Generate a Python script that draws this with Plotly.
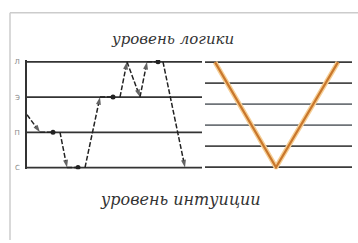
import plotly.graph_objects as go

# Left chart: levels and path
left_levels = [0, 1, 2, 3]
left_labels = ["С", "П", "Э", "Л"]
path_x = [0, 13, 33, 40, 58, 73, 93, 100, 113, 120, 136, 158]
path_y = [1.5, 1, 1, 0, 0, 2, 2, 3, 2, 3, 3, 0]
arrow_flags = [0, 1, 0, 1, 0, 1, 0, 1, 1, 1, 0, 1]
dot_x = [26, 51, 86, 131]
dot_y = [1, 0, 2, 3]

# Right chart: levels and V curve
right_levels = [0, 1, 2, 3, 4, 5]
right_colors = ["#3a3a3a", "#4a4a4a", "#6e7378", "#6e7378", "#4a4a4a", "#3a3a3a"]
v_x = [10, 71, 133]
v_y = [5, 0, 5]

title_top = "уровень логики"
title_bottom = "уровень интуиции"

W, H = 358, 243
LX0, LX1 = 0, 175
RX0, RX1 = 0, 147
dom_y = [0.297, 0.756]

fig = go.Figure()

for lv in left_levels:
    fig.add_trace(go.Scatter(x=[LX0, LX1], y=[lv, lv], mode="lines",
                             line=dict(color="#333333", width=1.8),
                             xaxis="x", yaxis="y", hoverinfo="skip", showlegend=False))

fig.add_trace(go.Scatter(
    x=path_x, y=path_y, mode="lines+markers",
    line=dict(color="#222222", width=1.5, dash="5px,2px"),
    marker=dict(symbol="arrow", angleref="previous",
                size=[8 if f else 0 for f in arrow_flags], color="#222222",
                line=dict(width=0)),
    xaxis="x", yaxis="y", hoverinfo="skip", showlegend=False))

fig.add_trace(go.Scatter(x=dot_x, y=dot_y, mode="markers",
                         marker=dict(size=5, color="#222222"),
                         xaxis="x", yaxis="y", hoverinfo="skip", showlegend=False))

for lv, c in zip(right_levels, right_colors):
    fig.add_trace(go.Scatter(x=[RX0, RX1], y=[lv, lv], mode="lines",
                             line=dict(color=c, width=1.8),
                             xaxis="x2", yaxis="y2", hoverinfo="skip", showlegend=False))

fig.add_trace(go.Scatter(x=v_x, y=v_y, mode="lines",
                         line=dict(color="#f6cf96", width=5),
                         xaxis="x2", yaxis="y2", hoverinfo="skip", showlegend=False))
fig.add_trace(go.Scatter(x=v_x, y=v_y, mode="lines",
                         line=dict(color="#c9772c", width=2.2),
                         xaxis="x2", yaxis="y2", hoverinfo="skip", showlegend=False))

fig.update_layout(
    width=W, height=H,
    margin=dict(l=0, r=0, t=0, b=0),
    paper_bgcolor="white", plot_bgcolor="rgba(0,0,0,0)",
    xaxis=dict(domain=[27 / W, 202 / W], range=[LX0, LX1], visible=False),
    yaxis=dict(domain=dom_y, range=[-0.05, 3.05], anchor="x",
               tickvals=left_levels, ticktext=left_labels,
               tickfont=dict(size=7, color="#888888", family="DejaVu Sans"),
               showgrid=False, zeroline=False, showline=True,
               linecolor="#333333", linewidth=1.8, ticks="", ticklabelstandoff=4),
    xaxis2=dict(domain=[205 / W, 352 / W], range=[RX0, RX1], visible=False, anchor="y2"),
    yaxis2=dict(domain=dom_y, range=[-0.1, 5.1], anchor="x2", visible=False),
    shapes=[
        dict(type="line", xref="paper", yref="paper", x0=10 / W, x1=1, y0=1 - 11 / H, y1=1 - 11 / H,
             line=dict(color="#cccccc", width=1.5)),
        dict(type="line", xref="paper", yref="paper", x0=10 / W, x1=10 / W, y0=0, y1=1 - 11 / H,
             line=dict(color="#cccccc", width=1.5)),
    ],
    annotations=[
        dict(text="<i>" + title_top + "</i>", xref="paper", yref="paper", x=172 / W, y=1 - 38 / H,
             showarrow=False, xanchor="center", yanchor="middle",
             font=dict(family="DejaVu Serif", size=15, color="#333333")),
        dict(text="<i>" + title_bottom + "</i>", xref="paper", yref="paper", x=180 / W, y=1 - 202 / H,
             showarrow=False, xanchor="center", yanchor="middle",
             font=dict(family="DejaVu Serif", size=16, color="#333333")),
    ],
)

fig.write_html("out.html", config={"displayModeBar": False, "staticPlot": True},
               post_script="document.body.style.margin='0';document.body.style.overflow='hidden';")
